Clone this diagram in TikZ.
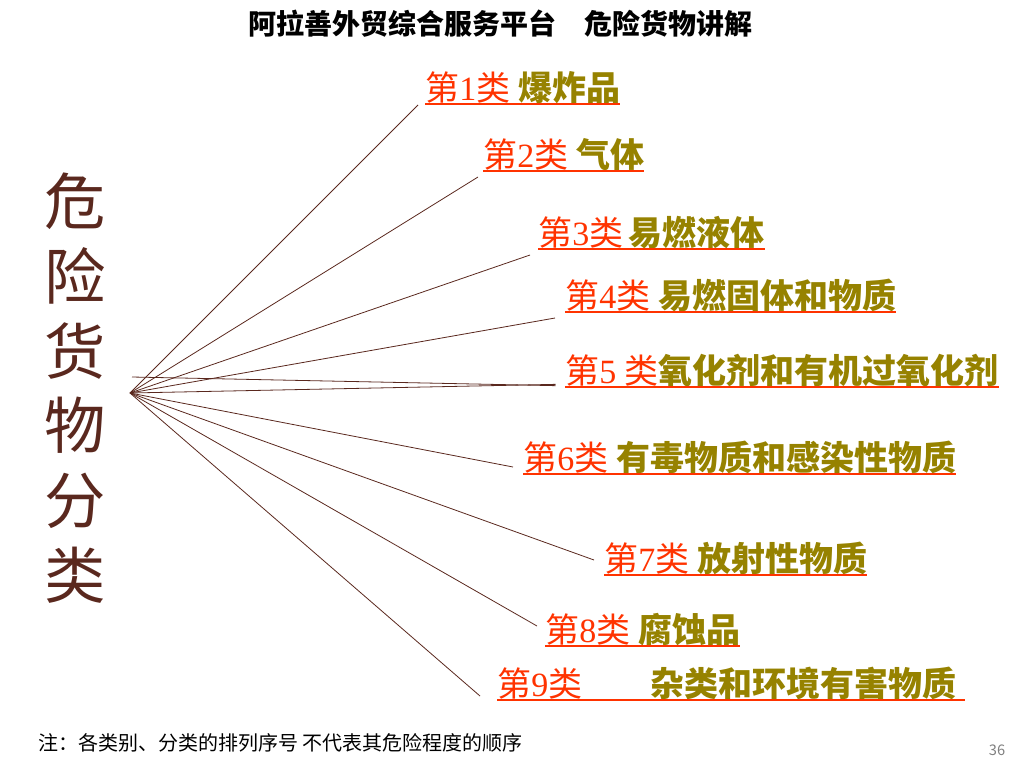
\documentclass[tikz,border=0pt]{standalone}
\usepackage{fontspec}
\newfontfamily\cjk{Noto Sans CJK SC}
\newfontfamily\ser{Liberation Serif}
\definecolor{rd}{RGB}{255,51,0}
\definecolor{ol}{RGB}{150,130,0}
\definecolor{br}{RGB}{90,40,30}
\begin{document}
\begin{tikzpicture}[x=0.75pt,y=-0.75pt,
 lab/.style={anchor=base west,inner sep=0pt,font=\cjk\fontsize{25.5}{27}\selectfont},
 ln/.style={br,line width=0.6pt}]
\useasboundingbox (0,0) rectangle (1024,768);
\node[font=\cjk\bfseries\fontsize{21}{24}\selectfont] (t) at (500,24) {阿拉善外贸综合服务平台\quad 危险货物讲解};
\node[br,align=center,font=\cjk\fontsize{46}{56}\selectfont] (v) at (75,388) {危\\险\\货\\物\\分\\类};
\coordinate (o) at (130,393);
\coordinate (o2) at (132,377);
\newcommand\lbl[5]{%
 \node[lab] (#1) at (#2,#3) {\textcolor{rd}{第\ser#4\cjk 类}\textcolor{ol}{\bfseries #5}};
 \draw[rd,line width=1.5pt] ([yshift=-3pt]#1.base west) -- ([yshift=-3pt]#1.base east);}
\lbl{l1}{425}{100}{1}{\ 爆炸品}
\lbl{l2}{483}{167}{2}{\ 气体}
\lbl{l3}{538}{245}{3}{\,易燃液体}
\lbl{l4}{565}{308}{4}{\ 易燃固体和物质}
\lbl{l5}{565}{383}{5 }{氧化剂和有机过氧化剂}
\lbl{l6}{523}{470}{6}{\ 有毒物质和感染性物质}
\lbl{l7}{604}{571}{7}{\ 放射性物质}
\lbl{l8}{545}{642}{8}{\ 腐蚀品}
\node[lab] (l9) at (497,696) {\textcolor{rd}{第\ser9\cjk 类}\qquad\textcolor{ol}{\bfseries 杂类和环境有害物质}};
\draw[rd,line width=1.5pt] ([yshift=-3pt]l9.base west) -- ++(468,0);
\foreach \n/\dx/\dy in {l1/7/-5,l2/5/-10,l3/8/-10,l4/10/-10,l6/10/3,l7/10/11,l8/8/16,l9/17/0}
 \draw[ln] (o) -- ([xshift=-\dx*0.75pt,yshift=\dy*0.75pt]\n.base west);
\draw[ln] (o) -- ([xshift=-7pt,yshift=-1pt]l5.base west);
\draw[ln] (o2) -- ([xshift=-7pt,yshift=-2pt]l5.base west);
\node[anchor=base west,inner sep=0pt,font=\cjk\fontsize{15}{18}\selectfont] (n) at (38,750) {注：各类别、分类的排列序号 不代表其危险程度的顺序};
\node[gray,font=\cjk\fontsize{11}{12}\selectfont] (p) at (997,750) {36};
\end{tikzpicture}
\end{document}
